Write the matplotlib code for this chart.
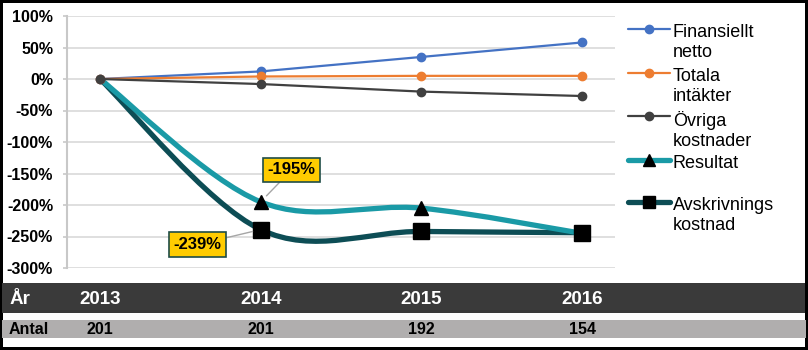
import numpy as np
import matplotlib
matplotlib.use('Agg')
import matplotlib.pyplot as plt
from matplotlib.path import Path
from matplotlib.patches import PathPatch, Rectangle
from matplotlib.lines import Line2D
from matplotlib.transforms import blended_transform_factory

plt.rcParams['font.family'] = ['Liberation Sans', 'DejaVu Sans']

# yearly change vs 2013, in percent
years = ['2013', '2014', '2015', '2016']
antal = [201, 201, 192, 154]

finansiellt = [0, 12, 35, 58]
totala = [0, 4, 5, 5]
ovriga = [0, -8, -20, -27]
resultat = [0, -195, -205, -245]
avskrivning = [0, -239, -242, -244]

names = ['Finansiellt\nnetto', 'Totala\nintäkter', 'Övriga\nkostnader',
         'Resultat', 'Avskrivnings\nkostnad']

W, H = 808, 350


def fx(x):
    return x / W


def fy(y):
    return 1 - y / H


def smooth_path(xs, ys):
    # cubic bezier through the points, like a spreadsheet "smoothed line"
    pts = np.column_stack([xs, ys]).astype(float)
    ext = np.vstack([pts[0], pts, pts[-1]])
    verts = [pts[0]]
    codes = [Path.MOVETO]
    for i in range(1, len(ext) - 2):
        p0, p1, p2, p3 = ext[i - 1], ext[i], ext[i + 1], ext[i + 2]
        verts += [p1 + (p2 - p0) / 6, p2 - (p3 - p1) / 6, p2]
        codes += [Path.CURVE4] * 3
    return Path(verts, codes)


fig = plt.figure(figsize=(W / 100, H / 100), dpi=100,
                 edgecolor='black', linewidth=4)
ax = fig.add_axes([fx(67), fy(268), fx(615) - fx(67), fy(16) - fy(268)])

x = np.arange(len(years))

c_res = '#1a9aa6'
c_avs = '#0d4d55'

# thick smoothed series
ax.add_patch(PathPatch(smooth_path(x, avskrivning), fill=False,
                       edgecolor=c_avs, lw=3.8, capstyle='round', zorder=2))
ax.add_patch(PathPatch(smooth_path(x, resultat), fill=False,
                       edgecolor=c_res, lw=3.8, capstyle='round', zorder=2))
ax.plot(x[1:], resultat[1:], ls='none', marker='^', ms=10, color='black', zorder=4)
ax.plot(x[1:], avskrivning[1:], ls='none', marker='s', ms=11, color='black', zorder=4)

# thin straight series
ax.plot(x, finansiellt, color='#4472c4', lw=1.6, marker='o', ms=6, zorder=3)
ax.plot(x, totala, color='#ed7d31', lw=1.6, marker='o', ms=6, zorder=3)
ax.plot(x, ovriga, color='#404040', lw=1.6, marker='o', ms=6, zorder=3)

ax.set_xlim(-0.205, 3.205)
ax.set_ylim(-300, 100)
ax.set_yticks(np.arange(-300, 101, 50))
ax.set_yticklabels([f'{v}%' for v in range(-300, 101, 50)],
                   fontsize=11.5, fontweight='bold')
ax.set_xticks([])
ax.grid(axis='y', color='#d9d9d9', lw=1.2)
ax.set_axisbelow(True)
for s in ['top', 'right', 'bottom']:
    ax.spines[s].set_visible(False)
ax.spines['left'].set_color('#c8c8c8')
ax.spines['left'].set_linewidth(1.5)
ax.tick_params(axis='y', length=3, width=1.2, color='#c8c8c8', pad=7)

# value labels
box = dict(boxstyle='square,pad=0.28', fc='#ffcc00', ec='#1f4d47', lw=1.2)
arrow = dict(arrowstyle='-', color='#a6a6a6', lw=1, shrinkA=0, shrinkB=6)
ax.annotate(f'{resultat[1]}%', xy=(x[1], resultat[1]), xytext=(31, 32),
            textcoords='offset pixels', ha='center', va='center',
            fontsize=12, fontweight='bold', bbox=box, arrowprops=arrow,
            zorder=5)
ax.annotate(f'{avskrivning[1]}%', xy=(x[1], avskrivning[1]), xytext=(-63, -15),
            textcoords='offset pixels', ha='center', va='center',
            fontsize=12, fontweight='bold', bbox=box, arrowprops=arrow,
            zorder=5)

# legend drawn by hand so that every entry keeps its own slot
legend_rows = [29, 73, 116, 160, 202]
styles = [('#4472c4', 1.6, 'o', 6, '#4472c4'),
          ('#ed7d31', 1.6, 'o', 6, '#ed7d31'),
          ('#404040', 1.6, 'o', 6, '#404040'),
          (c_res, 3.8, '^', 9, 'black'),
          (c_avs, 3.8, 's', 9, 'black')]
for row, name, (col, lw, mk, ms, mcol) in zip(legend_rows, names, styles):
    fig.add_artist(Line2D([fx(628), fx(670)], [fy(row), fy(row)],
                          transform=fig.transFigure, color=col, lw=lw,
                          solid_capstyle='round'))
    fig.add_artist(Line2D([fx(649)], [fy(row)], transform=fig.transFigure,
                          marker=mk, ms=ms, color=mcol, ls='none'))
    fig.text(fx(673), fy(row - 5), name, fontsize=13, va='top',
             ha='left', linespacing=1.2)

# table under the chart
fig.add_artist(Rectangle((fx(2), fy(313)), fx(805) - fx(2), fy(283) - fy(313),
                         transform=fig.transFigure, fc='#3a3a3a', ec='none'))
fig.add_artist(Rectangle((fx(2), fy(338)), fx(806) - fx(2), fy(320) - fy(338),
                         transform=fig.transFigure, fc='#b0aeae', ec='none'))
tr = blended_transform_factory(ax.transData, fig.transFigure)
fig.text(fx(9), fy(299), 'År', color='white', fontsize=13.5,
         fontweight='bold', va='center', ha='left')
fig.text(fx(9), fy(330), 'Antal', color='black', fontsize=11.5,
         fontweight='bold', va='center', ha='left')
for i, (yr, n) in enumerate(zip(years, antal)):
    fig.text(x[i], fy(299), yr, transform=tr, color='white', fontsize=13.5,
             fontweight='bold', va='center', ha='center')
    fig.text(x[i], fy(330), str(n), transform=tr, color='black',
             fontsize=11.5, fontweight='bold', va='center', ha='center')

plt.savefig('out.png', dpi=100, edgecolor=fig.get_edgecolor())
